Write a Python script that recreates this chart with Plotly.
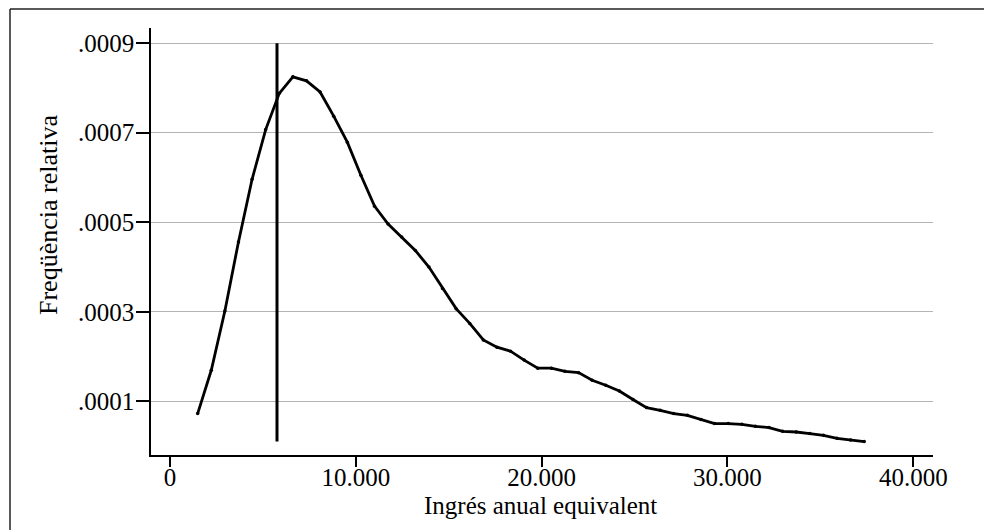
import plotly.graph_objects as go

# ---- data ----
income = [1491, 2223, 2955, 3687, 4419, 5151, 5883, 6615, 7347, 8079,
          8811, 9543, 10275, 11007, 11739, 12471, 13203, 13935, 14667, 15399,
          16131, 16863, 17595, 18327, 19059, 19791, 20523, 21255, 21987, 22719,
          23451, 24183, 24915, 25647, 26379, 27111, 27843, 28575, 29307, 30039,
          30771, 31503, 32235, 32967, 33699, 34431, 35163, 35895, 36627, 37359]
density = [0.0000725, 0.0001693, 0.0003018, 0.000456, 0.000596, 0.000707, 0.000788, 0.000825, 0.000816, 0.000791,
           0.000737, 0.000679, 0.000605, 0.000536, 0.000496, 0.000467, 0.000437, 0.000400, 0.000352, 0.000307,
           0.000274, 0.000237, 0.000221, 0.000212, 0.000192, 0.000174, 0.000174, 0.000167, 0.000164, 0.000147,
           0.000136, 0.000123, 0.000104, 0.0000859, 0.0000799, 0.0000725, 0.0000687, 0.0000591, 0.0000502, 0.0000502,
           0.0000486, 0.0000441, 0.0000412, 0.0000330, 0.0000314, 0.0000278, 0.0000240, 0.0000173, 0.0000135, 0.0000099]

ref_line_x = [5760, 5760]
ref_line_y = [0.00001, 0.0009]

x_tick_vals = [0, 10000, 20000, 30000, 40000]
x_tick_text = ["0", "10.000", "20.000", "30.000", "40.000"]
y_tick_vals = [0.0001, 0.0003, 0.0005, 0.0007, 0.0009]
y_tick_text = [".0001", ".0003", ".0005", ".0007", ".0009"]

x_title = "Ingrés anual equivalent"
y_title = "Freqüència relativa"

FONT = "Liberation Serif"
FS = 25

# body margin removed via post_script, so page coords == figure coords
W, H = 984, 530
L, R, T, B = 151, 933, 28, 455
pw, ph = R - L, B - T

fig = go.Figure()
fig.add_trace(go.Scatter(x=ref_line_x, y=ref_line_y, mode="lines",
                         line=dict(color="black", width=3), hoverinfo="skip"))
fig.add_trace(go.Scatter(x=income, y=density, mode="lines+markers",
                         line=dict(color="black", width=2.8),
                         marker=dict(size=3.5, color="black")))

fig.update_layout(
    width=W, height=H,
    margin=dict(l=L, r=W - R, t=T, b=H - B, pad=0),
    paper_bgcolor="white", plot_bgcolor="white",
    showlegend=False,
    font=dict(family=FONT, size=FS, color="black"),
    xaxis=dict(range=[-1020, 41060], tickvals=x_tick_vals, ticktext=x_tick_text,
               showgrid=False, zeroline=False, showline=True, linecolor="black", linewidth=1.5,
               ticks="outside", ticklen=10, tickwidth=1.5, tickcolor="black",
               ticklabelstandoff=-11,
               tickfont=dict(family=FONT, size=FS, color="black")),
    yaxis=dict(range=[-0.00002, 0.000934], tickvals=y_tick_vals, ticktext=y_tick_text,
               showgrid=True, gridcolor="#b4b4b4", gridwidth=1.2, zeroline=False,
               showline=True, linecolor="black", linewidth=1.5,
               ticks="outside", ticklen=13, tickwidth=1.5, tickcolor="black",
               ticklabelstandoff=-3,
               tickfont=dict(family=FONT, size=FS, color="black")),
    annotations=[
        dict(text=x_title, xref="paper", yref="paper", x=(540 - L) / pw, y=(B - 506) / ph,
             xanchor="center", yanchor="middle", showarrow=False,
             font=dict(family=FONT, size=FS, color="black")),
        dict(text=y_title, xref="paper", yref="paper", x=(48 - L) / pw, y=1 - (215 - T) / ph,
             xanchor="center", yanchor="middle", textangle=-90, showarrow=False,
             font=dict(family=FONT, size=26, color="black")),
    ],
    shapes=[
        dict(type="line", xref="paper", yref="paper", x0=(10 - L) / pw, x1=(10 - L) / pw,
             y0=(B - 560) / ph, y1=1 + (T - 9) / ph, line=dict(color="#222222", width=1.5)),
        dict(type="line", xref="paper", yref="paper", x0=(10 - L) / pw, x1=(1000 - L) / pw,
             y0=1 + (T - 9) / ph, y1=1 + (T - 9) / ph, line=dict(color="#222222", width=1.5)),
    ],
)

fig.write_html("out.html",
               config={"displayModeBar": False},
               post_script=("document.documentElement.style.overflow='hidden';"
                            "document.body.style.margin='0';document.body.style.overflow='hidden';"))
